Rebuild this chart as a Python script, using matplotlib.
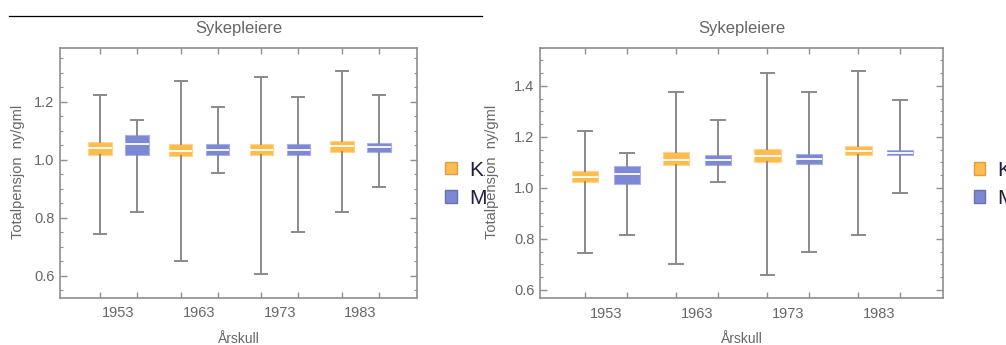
import matplotlib
matplotlib.use("Agg")
import matplotlib.pyplot as plt
from matplotlib.lines import Line2D
from matplotlib.patches import Patch
import numpy as np

plt.rcParams["font.family"] = ["Liberation Sans", "DejaVu Sans"]

years = ["1953", "1963", "1973", "1983"]
groups = ["K", "M"]

# left panel: whislo, q1, med, q3, whishi per cohort
left_k_lo = [0.743, 0.653, 0.605, 0.819]
left_k_q1 = [1.017, 1.013, 1.017, 1.028]
left_k_med = [1.040, 1.032, 1.035, 1.047]
left_k_q3 = [1.063, 1.053, 1.053, 1.064]
left_k_hi = [1.222, 1.270, 1.286, 1.307]

left_m_lo = [0.819, 0.956, 0.753, 0.908]
left_m_q1 = [1.017, 1.017, 1.017, 1.028]
left_m_med = [1.053, 1.035, 1.035, 1.043]
left_m_q3 = [1.085, 1.053, 1.053, 1.058]
left_m_hi = [1.137, 1.181, 1.216, 1.222]

# right panel
right_k_lo = [0.745, 0.702, 0.659, 0.817]
right_k_q1 = [1.022, 1.089, 1.100, 1.131]
right_k_med = [1.043, 1.111, 1.124, 1.146]
right_k_q3 = [1.068, 1.141, 1.153, 1.166]
right_k_hi = [1.224, 1.376, 1.450, 1.460]

right_m_lo = [0.817, 1.024, 0.750, 0.982]
right_m_q1 = [1.017, 1.089, 1.094, 1.131]
right_m_med = [1.056, 1.108, 1.112, 1.138]
right_m_q3 = [1.086, 1.129, 1.135, 1.148]
right_m_hi = [1.138, 1.267, 1.376, 1.346]

orange = "#FDBC4E"
orange_edge = "#FFD58E"
blue = "#7D88D5"
blue_edge = "#A9B0E6"
whisker_col = "#8a8a8a"
text_col = "#666666"
frame_col = "#8f8f8f"


def make_stats(lo, q1, med, q3, hi):
    return [
        dict(whislo=a, q1=b, med=c, q3=d, whishi=e, fliers=[])
        for a, b, c, d, e in zip(lo, q1, med, q3, hi)
    ]


def draw_panel(ax, k, m, ylim, ymajor):
    centers = np.arange(len(years))
    off = 0.229
    for stats, pos, face, edge in [
        (k, centers - off, orange, orange_edge),
        (m, centers + off, blue, blue_edge),
    ]:
        ax.bxp(
            stats,
            positions=pos,
            widths=0.29,
            capwidths=0.15,
            patch_artist=True,
            showfliers=False,
            boxprops=dict(facecolor=face, edgecolor=edge, linewidth=0.8),
            medianprops=dict(color="white", linewidth=1.3),
            whiskerprops=dict(color=whisker_col, linewidth=1.4),
            capprops=dict(color=whisker_col, linewidth=1.4),
            manage_ticks=False,
        )

    ax.set_xlim(-0.725, 3.70)
    ax.set_ylim(*ylim)

    ax.set_xticks(centers)
    ax.set_xticklabels(years)
    ax.set_xticks(np.sort(np.concatenate([centers - off, centers + off])), minor=True)
    ax.tick_params(axis="x", which="major", length=0, pad=6,
                   labelsize=10.5, labelcolor=text_col)
    ax.tick_params(axis="x", which="minor", direction="in", length=4,
                   width=1.0, color=frame_col, top=True, bottom=True)

    ax.set_yticks(ymajor)
    ax.set_yticklabels([f"{v:.1f}" for v in ymajor])
    ax.set_yticks(np.arange(0.5, 1.6, 0.05), minor=True)
    ax.set_ylim(*ylim)
    ax.tick_params(axis="y", which="major", direction="in", length=5, width=1.0,
                   color=frame_col, left=True, right=True, pad=4,
                   labelsize=10.5, labelcolor=text_col)
    ax.tick_params(axis="y", which="minor", direction="in", length=2.5,
                   width=0.8, color=frame_col, left=True, right=True)

    for s in ax.spines.values():
        s.set_color(frame_col)
        s.set_linewidth(1.2)

    ax.legend(
        handles=[
            Patch(facecolor=orange, edgecolor="#d9a04a", label="K"),
            Patch(facecolor=blue, edgecolor="#6870b0", label="M"),
        ],
        loc="center left",
        bbox_to_anchor=(1.05, 0.455),
        frameon=False,
        fontsize=15,
        handlelength=0.55,
        handleheight=0.55,
        handletextpad=0.6,
        labelspacing=0.45,
        borderpad=0,
        labelcolor="#1e1e3c",
    )


fig = plt.figure(figsize=(10.06, 3.45), dpi=100)
ax1 = fig.add_axes([0.0596, 0.1362, 0.3549, 0.7246])
ax2 = fig.add_axes([0.5368, 0.1353, 0.4006, 0.7264])

draw_panel(
    ax1,
    make_stats(left_k_lo, left_k_q1, left_k_med, left_k_q3, left_k_hi),
    make_stats(left_m_lo, left_m_q1, left_m_med, left_m_q3, left_m_hi),
    (0.524, 1.385),
    [0.6, 0.8, 1.0, 1.2],
)
draw_panel(
    ax2,
    make_stats(right_k_lo, right_k_q1, right_k_med, right_k_q3, right_k_hi),
    make_stats(right_m_lo, right_m_q1, right_m_med, right_m_q3, right_m_hi),
    (0.567, 1.55),
    [0.6, 0.8, 1.0, 1.2, 1.4],
)

W, H = 1006, 345
for cx, ylx in [(238.5, 18), (741.5, 492)]:
    fig.text(cx / W, 1 - 29 / H, "Sykepleiere", ha="center", va="center",
             fontsize=12, color=text_col)
    fig.text(cx / W, 1 - 339 / H, "Årskull", ha="center", va="center",
             fontsize=10, color=text_col)
    fig.text(ylx / W, 1 - 172 / H, "Totalpensjon  ny/gml", ha="center",
             va="center", rotation=90, fontsize=10.5, color=text_col)

fig.add_artist(Line2D([9 / W, 482 / W], [1 - 16 / H, 1 - 16 / H],
                      color="black", linewidth=0.9))

fig.savefig("out.png", dpi=100)
